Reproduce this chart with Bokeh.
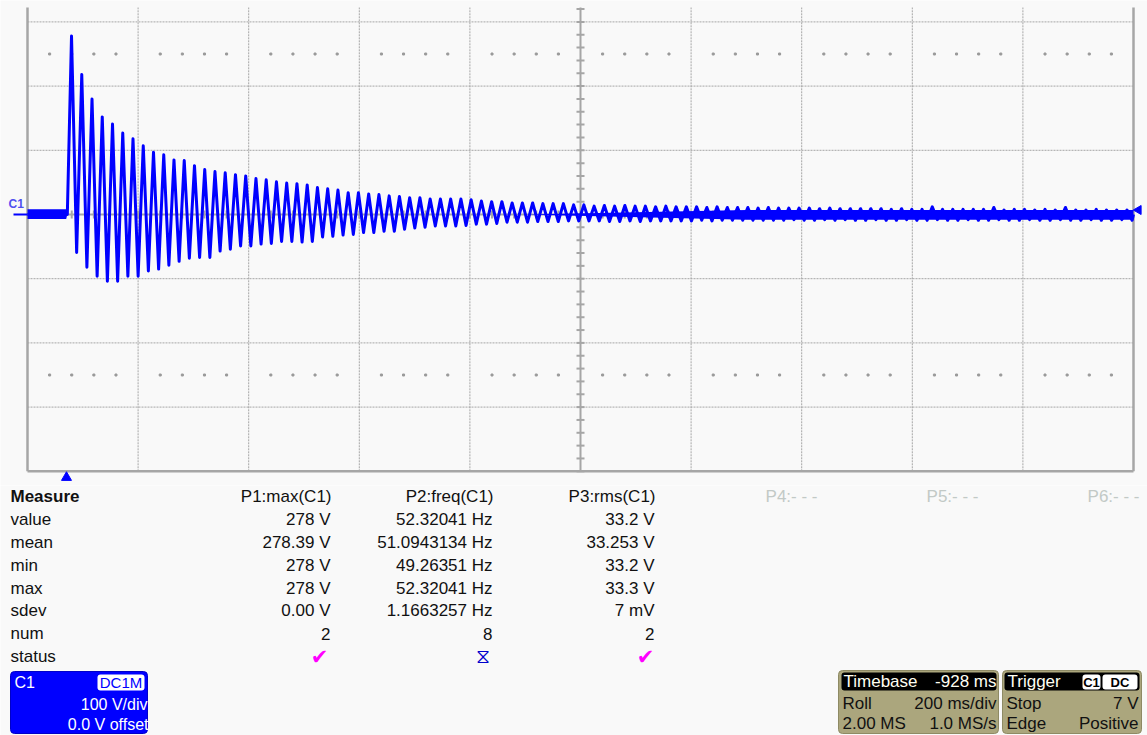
import numpy as np
from bokeh.plotting import figure
from bokeh.models import Range1d
from bokeh.layouts import column
from bokeh.embed import file_html
from bokeh.resources import INLINE
from bokeh.core.properties import value

# C1 trace: successive positive peaks / negative troughs of each cycle (V)
peak_v = [278, 218, 180, 152, 141, 127, 118, 107, 97, 93,
          85, 84, 76, 70, 67, 65, 62, 60, 56, 54,
          51, 49, 48, 46, 42, 40, 38, 34, 34, 32,
          31, 29, 28, 26, 26, 24, 24, 24, 24, 23,
          21, 20, 20, 18, 18, 18, 17, 17, 17, 15,
          15, 13, 14, 13, 14, 13, 13, 12, 13, 12,
          12, 12, 11, 12, 11, 11, 11, 10, 11, 10,
          10, 10, 10, 9, 10, 9, 9, 9, 9, 9,
          8, 9, 8, 8, 12, 8, 8, 8, 8, 8,
          11, 7, 8, 8, 7, 8, 7, 11, 7, 7,
          8, 7, 7, 7]
trough_v = [-59, -82, -96, -104, -104, -96, -96, -88, -85, -79,
            -73, -68, -67, -67, -57, -54, -49, -49, -46, -45,
            -42, -42, -43, -42, -35, -34, -32, -31, -28, -28,
            -26, -26, -23, -21, -20, -18, -18, -18, -17, -15,
            -15, -14, -12, -12, -12, -11, -11, -11, -10, -10,
            -10, -10, -11, -11, -10, -11, -10, -10, -10, -10,
            -10, -9, -10, -9, -9, -9, -9, -9, -9, -9,
            -8, -9, -9, -8, -9, -8, -9, -9, -8, -9,
            -9, -8, -9, -9, -8, -9, -9, -8, -9, -9,
            -8, -9, -9, -8, -9, -9, -8, -9, -9, -8,
            -9, -9, -8, -9]
onset_ms = 72.0          # start of the surge
first_peak_ms = 79.6     # first (278 V) peak
cycle_period_ms = 18.53  # spacing of the cycles on screen
record_ms = 2000.0       # 10 div x 200 ms/div

# residual noise band of the trace
band_t_ms = [0, 70, 72, 900, 1300, 2000]
band_hi_v = [8, 8, 0, 0, 7, 7]
band_lo_v = [-7, -7, 0, 0, -8, -8]

trigger_time_ms = 70.5
trigger_level_v = 7.0

# measurement table
row_labels = ["value", "mean", "min", "max", "sdev", "num", "status"]
param_headers = ["P1:max(C1)", "P2:freq(C1)", "P3:rms(C1)"]
p1_values = ["278 V", "278.39 V", "278 V", "278 V", "0.00 V", "2"]
p2_values = ["52.32041 Hz", "51.0943134 Hz", "49.26351 Hz", "52.32041 Hz", "1.1663257 Hz", "8"]
p3_values = ["33.2 V", "33.253 V", "33.2 V", "33.3 V", "7 mV", "2"]
empty_headers = ["P4:- - -", "P5:- - -", "P6:- - -"]

# ---------------- layout constants ----------------
BG = "#F9F9F9"
BLUE = "#0000FF"
GRID = "#A6A6A6"
FONT = "Liberation Sans"
W = 1147
TOP_H = 485
BOT_H = 250
GRID_LEFT_PX = 27
GRID_TOP_PX = 7
PX_PER_DIV_X = 110.6
PX_PER_DIV_Y = 64.2
ZERO_Y_PX = 214
MS_PER_DIV = 200.0
V_PER_DIV = 100.0

px_ms = PX_PER_DIV_X / MS_PER_DIV
px_v = PX_PER_DIV_Y / V_PER_DIV


def fx(page_x):
    return (page_x - GRID_LEFT_PX) / px_ms


def fy(page_y):
    return (ZERO_Y_PX - page_y) / px_v


x0, x1 = fx(0), fx(W)
y0, y1 = fy(TOP_H), fy(0)
grid_bottom = -4 * V_PER_DIV
grid_top = fy(GRID_TOP_PX)

p = figure(width=W, height=TOP_H, x_range=Range1d(x0, x1), y_range=Range1d(y0, y1),
           output_backend="svg", toolbar_location=None,
           x_axis_location=None, y_axis_location=None, min_border=0)
p.background_fill_color = BG
p.border_fill_color = BG
p.outline_line_color = None
p.xgrid.visible = False
p.ygrid.visible = False

# dotted division lines
vx = [k * MS_PER_DIV for k in range(1, 10) if k != 5]
p.segment(x0=vx, y0=[grid_bottom] * len(vx), x1=vx, y1=[grid_top] * len(vx),
          line_color=GRID, line_width=1, line_dash="2 1")
hy = [k * V_PER_DIV for k in (3, 2, 1, -1, -2, -3)]
p.segment(x0=[0] * len(hy), y0=hy, x1=[record_ms] * len(hy), y1=hy,
          line_color=GRID, line_width=1, line_dash="2 1")

# dot rows
dx = [k * MS_PER_DIV / 5 for k in range(1, 50) if k % 5 != 0]
for yy in (2.5 * V_PER_DIV, -2.5 * V_PER_DIV):
    p.scatter(x=dx, y=[yy] * len(dx), size=2, color="#9A9A9A", marker="square")

# borders
p.segment(x0=[0, record_ms, 0], y0=[grid_bottom, grid_bottom, grid_bottom],
          x1=[0, record_ms, record_ms], y1=[grid_top, grid_top, grid_bottom],
          line_color=GRID, line_width=2.5)
# centre axes
p.segment(x0=[record_ms / 2, 0], y0=[grid_bottom, 0], x1=[record_ms / 2, record_ms], y1=[grid_top, 0],
          line_color=GRID, line_width=2)
ty = [k * V_PER_DIV / 5 for k in range(-20, 17)]
p.segment(x0=[record_ms / 2 - 4 / px_ms] * len(ty), y0=ty,
          x1=[record_ms / 2 + 4 / px_ms] * len(ty), y1=ty, line_color=GRID, line_width=2)
tx = [k * MS_PER_DIV / 5 for k in range(1, 50)]
p.segment(x0=tx, y0=[-4 / px_v] * len(tx), x1=tx, y1=[4 / px_v] * len(tx),
          line_color=GRID, line_width=2)

# trace
t = [0.0, onset_ms]
v = [0.0, 0.0]
for i, (pk, tr) in enumerate(zip(peak_v, trough_v)):
    t += [first_peak_ms + i * cycle_period_ms, first_peak_ms + (i + 0.5) * cycle_period_ms]
    v += [pk, tr]
t.append(record_ms)
v.append(0.0)
p.varea(x=band_t_ms, y1=band_lo_v, y2=band_hi_v, fill_color=BLUE)
p.line(x=t, y=v, line_color=BLUE, line_width=3.0, line_join="round")

# channel marker
p.segment(x0=[fx(13)], y0=[0], x1=[0], y1=[0], line_color=BLUE, line_width=2)
p.text(x=[fx(8)], y=[fy(210)], text=["C1"], text_font=value(FONT), text_font_style="bold",
       text_font_size="12px", text_color="#5050F0", text_baseline="bottom", text_align="left")
# trigger markers
p.scatter(x=[trigger_time_ms], y=[fy(477)], marker="triangle", size=10, color=BLUE)
p.scatter(x=[fx(1138)], y=[trigger_level_v], marker="triangle", size=9, color=BLUE, angle=np.pi / 2)

# ---------------- bottom panel ----------------
q = figure(width=W, height=BOT_H, x_range=Range1d(0, W), y_range=Range1d(TOP_H + BOT_H, TOP_H),
           output_backend="svg", toolbar_location=None,
           x_axis_location=None, y_axis_location=None, min_border=0)
q.background_fill_color = BG
q.border_fill_color = BG
q.outline_line_color = None
q.xgrid.visible = False
q.ygrid.visible = False


def txt(x, y, s, align="left", color="#111111", size=17, bold=False, font=FONT):
    q.text(x=[x], y=[y], text=[s], text_align=align, text_baseline="middle",
           text_color=color, text_font_size=f"{size}px", text_font=value(font),
           text_font_style="bold" if bold else "normal")


row_y = [519, 542, 565, 588, 610, 633, 656]
txt(10, 496, "Measure", bold=True)
for lab, yy in zip(row_labels, row_y):
    txt(10, yy, lab)
col_right = [330, 492, 654]
for xr, head, vals in zip(col_right, param_headers, [p1_values, p2_values, p3_values]):
    txt(xr + 1, 496, head, align="right")
    for s, yy in zip(vals, row_y[:-1]):
        txt(xr, yy, s, align="right")
for xr, head in zip([817, 978, 1139], empty_headers):
    txt(xr, 496, head, align="right", color="#C2C9C6")
# status icons
txt(319, 656, "\u2714", align="center", color="#FF00FF", size=21, font="DejaVu Sans")
txt(645, 656, "\u2714", align="center", color="#FF00FF", size=21, font="DejaVu Sans")
txt(482, 655, "\u29D6", align="center", color="#0000CC", size=20, font="DejaVu Sans")

# C1 channel box
q.quad(left=[10], right=[147], top=[671], bottom=[733], fill_color=BLUE, line_color="#0000C8",
       border_radius=4)
q.quad(left=[97], right=[144], top=[674], bottom=[690], fill_color="white", line_color=None,
       border_radius=3)
txt(14, 682, "C1", color="white", size=16)
txt(120.5, 682, "DC1M", align="center", color=BLUE, size=15)
txt(147, 704, "100 V/div", align="right", color="white", size=16)
txt(148, 724, "0.0 V offset", align="right", color="white", size=16)

# timebase box
OLIVE = "#ABA67D"
q.quad(left=[838], right=[998], top=[670], bottom=[733], fill_color=OLIVE, line_color="#8E8A64",
       border_radius=4)
q.quad(left=[841], right=[996], top=[672], bottom=[690], fill_color="black", line_color=None,
       border_radius=3)
txt(843, 681, "Timebase", color="#FFFFF2")
txt(996, 681, "-928 ms", align="right", color="#FFFFF2")
txt(842, 703, "Roll")
txt(996, 703, "200 ms/div", align="right")
txt(842, 723, "2.00 MS")
txt(996, 723, "1.0 MS/s", align="right")

# trigger box
q.quad(left=[1002], right=[1141], top=[670], bottom=[733], fill_color=OLIVE, line_color="#8E8A64",
       border_radius=4)
q.quad(left=[1004], right=[1139], top=[672], bottom=[690], fill_color="black", line_color=None,
       border_radius=3)
txt(1007, 681, "Trigger", color="#FFFFF2")
q.quad(left=[1082, 1102], right=[1100, 1137], top=[674, 674], bottom=[689, 689],
       fill_color="white", line_color=None, border_radius=3)
txt(1091, 682, "C1", align="center", color="black", size=13, bold=True)
txt(1119.5, 682, "DC", align="center", color="black", size=13, bold=True)
txt(1006, 703, "Stop")
txt(1138, 703, "7 V", align="right")
txt(1006, 723, "Edge")
txt(1138, 723, "Positive", align="right")

layout = column(p, q, spacing=0)
open("out.html", "w").write(file_html(layout, INLINE))
